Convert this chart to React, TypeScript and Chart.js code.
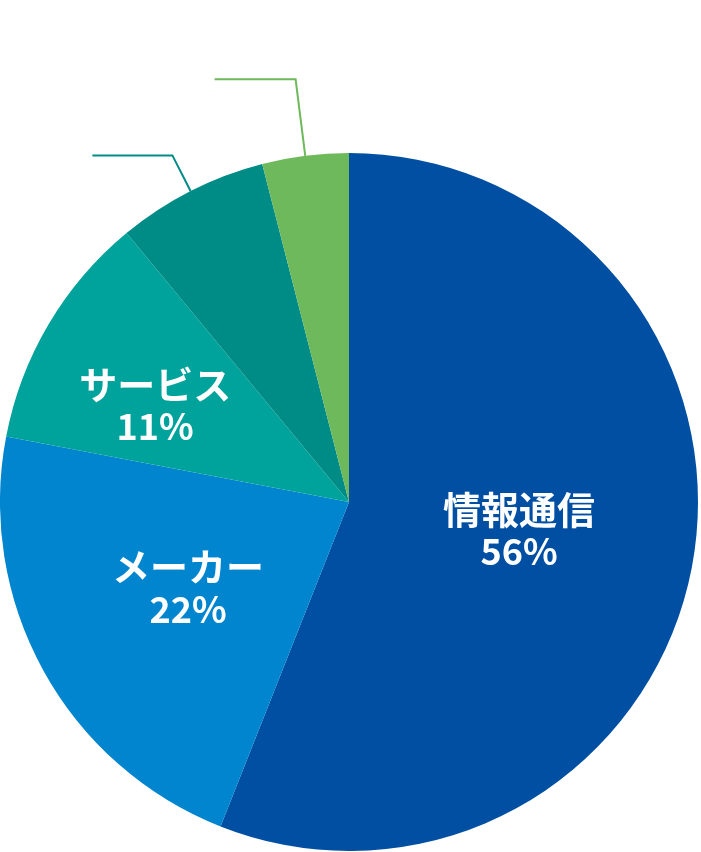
import React, { useEffect, useRef } from 'react';
import { Chart, registerables } from 'chart.js';

Chart.register(...registerables);

// Data
const categories = ['情報通信', 'メーカー', 'サービス', 'その他A', 'その他B'];
const shares = [56, 22, 11, 7, 4];
const sliceColors = ['#004FA2', '#0085CE', '#00A39C', '#008C86', '#6DB95B'];
const showLabel = [true, true, true, false, false];

// label placement: radius as a fraction of the pie radius, angle nudge in degrees
const labelRadius = [0.494, 0.523, 0.62, 0, 0];
const labelNudge = [-1.4, 0.7, -4.2, 0, 0];
// leader line: radial extension beyond arc, horizontal run to the left
const leaderExt = [0, 0, 0, 40, 77];
const leaderRun = [0, 0, 0, 80, 81];

const FONT = '"Noto Sans CJK JP", "Noto Sans", sans-serif';

const labelPlugin = {
  id: 'pieLabels',
  afterDatasetsDraw(chart: Chart) {
    const { ctx } = chart;
    const meta = chart.getDatasetMeta(0);
    meta.data.forEach((el: any, i: number) => {
      const { x, y, startAngle, endAngle, outerRadius } = el.getProps(
        ['x', 'y', 'startAngle', 'endAngle', 'outerRadius'],
        true
      );
      const mid = (startAngle + endAngle) / 2;
      ctx.save();
      if (showLabel[i]) {
        const a = mid + (labelNudge[i] * Math.PI) / 180;
        const r = outerRadius * labelRadius[i];
        const lx = x + Math.cos(a) * r;
        const ly = y + Math.sin(a) * r;
        ctx.fillStyle = '#ffffff';
        ctx.textAlign = 'center';
        ctx.textBaseline = 'middle';
        ctx.font = `bold 38px ${FONT}`;
        ctx.fillText(categories[i], lx, ly - 21);
        ctx.font = `bold 36px ${FONT}`;
        ctx.fillText(`${shares[i]}%`, lx, ly + 21);
      } else if (leaderExt[i] > 0) {
        const x0 = x + Math.cos(mid) * outerRadius;
        const y0 = y + Math.sin(mid) * outerRadius;
        const x1 = x + Math.cos(mid) * (outerRadius + leaderExt[i]);
        const y1 = y + Math.sin(mid) * (outerRadius + leaderExt[i]);
        ctx.strokeStyle = sliceColors[i];
        ctx.lineWidth = 2;
        ctx.beginPath();
        ctx.moveTo(x0, y0);
        ctx.lineTo(x1, y1);
        ctx.lineTo(x1 - leaderRun[i], y1);
        ctx.stroke();
      }
      ctx.restore();
    });
  }
};

const App: React.FC = () => {
  const chartRef = useRef<HTMLCanvasElement | null>(null);
  const chartInstance = useRef<Chart | null>(null);

  useEffect(() => {
    if (!chartRef.current) return;
    if (chartInstance.current) chartInstance.current.destroy();

    chartInstance.current = new Chart(chartRef.current, {
      type: 'pie',
      data: {
        labels: categories,
        datasets: [
          {
            data: shares,
            backgroundColor: sliceColors,
            borderWidth: 0,
            hoverOffset: 0
          }
        ]
      },
      options: {
        responsive: false,
        animation: false,
        devicePixelRatio: 1,
        layout: { padding: { top: 153, left: 0, right: 3, bottom: 1 } },
        plugins: {
          legend: { display: false },
          tooltip: { enabled: false }
        }
      },
      plugins: [labelPlugin]
    });

    return () => {
      if (chartInstance.current) {
        chartInstance.current.destroy();
        chartInstance.current = null;
      }
    };
  }, []);

  return (
    <div style={{ position: 'absolute', left: 0, top: 0, width: 701, height: 852, background: '#ffffff' }}>
      <canvas ref={chartRef} width={701} height={852} />
    </div>
  );
};

export default App;
